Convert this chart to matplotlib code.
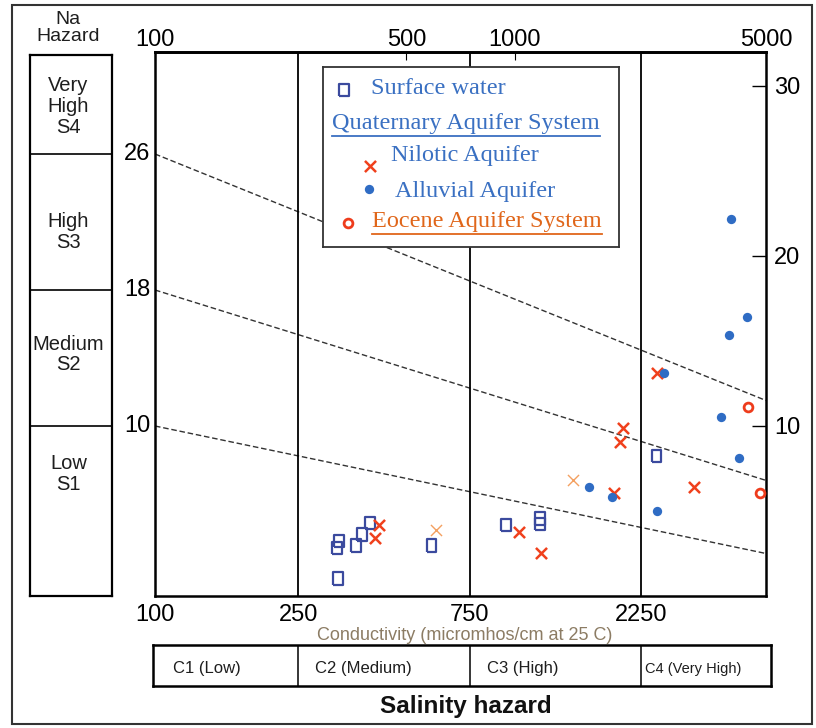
import numpy as np
import matplotlib
matplotlib.use('Agg')
import matplotlib.pyplot as plt
from matplotlib.patches import Rectangle
from matplotlib.ticker import NullLocator
from matplotlib.transforms import blended_transform_factory

W, H = 816, 728

# Sample points: EC (micromhos/cm) and SAR
surface_ec = [325, 321, 323, 362, 376, 396, 588, 946, 1177, 1177, 2484]
surface_sar = [3.24, 2.82, 1.02, 2.98, 3.61, 4.30, 2.98, 4.16, 4.56, 4.22, 8.23]
nilotic_ec = [420, 409, 1029, 1182, 2484, 2005, 1964, 1890, 3160]
nilotic_sar = [4.16, 3.41, 3.77, 2.53, 13.14, 9.86, 9.07, 6.07, 6.39]
nilotic_faint_ec = [604, 1456]
nilotic_faint_sar = [3.87, 6.82]
alluvial_ec = [3990, 4420, 3954, 2603, 3750, 4216, 1610, 1862, 2484]
alluvial_sar = [22.2, 16.44, 15.37, 13.14, 10.55, 8.10, 6.39, 5.80, 4.99]
eocene_ec = [4467, 4813]
eocene_sar = [11.14, 6.07]

# Na hazard boundaries (SAR at EC=100 and EC=5000)
boundary_left = [26, 18, 10]
boundary_right = [11.5, 6.8, 2.5]
class_edges = [250, 750, 2250]
top_ticks = [100, 500, 1000, 5000]
bottom_ticks = [100, 250, 750, 2250]
right_ticks = [10, 20, 30]
na_labels = ['Very\nHigh\nS4', 'High\nS3', 'Medium\nS2', 'Low\nS1']
c_labels = ['C1 (Low)', 'C2 (Medium)', 'C3 (High)', 'C4 (Very High)']

SANS = ['Liberation Sans', 'DejaVu Sans']
SERIF = ['Liberation Serif', 'DejaVu Serif']
BLUE_TXT = '#3a70c2'
SQ_COL = '#3b4a9e'
X_COL = '#f0401c'
DOT_COL = '#2f6cc4'
EO_COL = '#ee3c1c'
EO_TXT = '#e0661a'

RECT = [(-0.75, -1), (0.75, -1), (0.75, 1), (-0.75, 1), (-0.75, -1)]

sq_style = dict(marker=RECT, facecolors='none', edgecolors=SQ_COL, s=80, linewidths=1.6)
x_style = dict(marker='x', color=X_COL, s=64, linewidths=1.8)
xf_style = dict(marker='x', color='#f4a060', s=64, linewidths=1.0)
dot_style = dict(marker='o', color=DOT_COL, s=45, linewidths=0)
eo_style = dict(marker='o', facecolors='white', edgecolors=EO_COL, s=40, linewidths=2)


def fbox(x0, y0, x1, y1):
    """pixel box (top-left origin) -> figure rect"""
    return [x0 / W, 1 - y1 / H, (x1 - x0) / W, (y1 - y0) / H]


def ftext(x, y, s, **kw):
    kw.setdefault('family', SANS)
    kw.setdefault('ha', 'center')
    kw.setdefault('va', 'center')
    return fig.text(x / W, 1 - y / H, s, **kw)


fig = plt.figure(figsize=(W / 100, H / 100), dpi=100)

# outer frame
fig.add_artist(Rectangle((12 / W, 1 - 724 / H), 800 / W, 719 / H, transform=fig.transFigure,
                         fill=False, edgecolor='#333333', lw=1.5))

# ---- main diagram ----
ax = fig.add_axes(fbox(155, 52, 766, 596))
ax.set_xscale('log')
ax.set_xlim(100, 5000)
ax.set_ylim(0, 32)
for sp in ax.spines.values():
    sp.set_linewidth(1.8)

for l, r in zip(boundary_left, boundary_right):
    ax.plot([100, 5000], [l, r], color='#333333', lw=1.0, ls=(0, (4, 2)), zorder=1)
for e in class_edges:
    ax.axvline(e, color='black', lw=1.3, zorder=1)

ax.scatter(surface_ec, surface_sar, zorder=3, **sq_style)
ax.scatter(nilotic_ec, nilotic_sar, zorder=3, **x_style)
ax.scatter(nilotic_faint_ec, nilotic_faint_sar, zorder=3, **xf_style)
ax.scatter(alluvial_ec, alluvial_sar, zorder=3, **dot_style)
ax.scatter(eocene_ec, eocene_sar, zorder=4, **eo_style)

ax.xaxis.set_minor_locator(NullLocator())
ax.set_xticks(bottom_ticks)
ax.set_xticklabels([str(t) for t in bottom_ticks], family=SANS)
ax.tick_params(axis='x', length=0, pad=6, labelsize=17)

ax.yaxis.tick_right()
ax.set_yticks(right_ticks)
ax.set_yticklabels([str(t) for t in right_ticks], family=SANS)
ax.tick_params(axis='y', direction='in', length=10, width=1.0, pad=6, labelsize=17)

sec = ax.secondary_xaxis('top')
sec.xaxis.set_minor_locator(NullLocator())
sec.set_xticks(top_ticks)
sec.set_xticklabels([str(t) for t in top_ticks], family=SANS)
sec.tick_params(direction='in', length=6, pad=1, labelsize=17)
sec.spines['top'].set_linewidth(2.0)

lt = blended_transform_factory(ax.transAxes, ax.transData)
for v in boundary_left:
    ax.text(-0.008, v, str(v), transform=lt, ha='right', va='center',
            fontsize=17, family=SANS)

# ---- Na hazard column ----
axl = fig.add_axes(fbox(30, 55, 112, 596))
axl.set_ylim(0, 32 * (596 - 55) / (596 - 52))
axl.set_xlim(0, 1)
axl.set_xticks([])
axl.set_yticks([])
for sp in axl.spines.values():
    sp.set_linewidth(1.6)
for v in boundary_left:
    axl.axhline(v, color='black', lw=1.2)
for lab, yc in zip(na_labels, [28.8, 21.4, 14.2, 7.2]):
    axl.text(0.47, yc, lab, ha='center', va='center', fontsize=14.5,
             family=SANS, color='#1e1e1e', linespacing=1.12)
ftext(68, 28, 'Na\nHazard', fontsize=14, linespacing=1.05, color='#1e1e1e')

# ---- salinity class boxes ----
axs = fig.add_axes(fbox(153, 645, 771, 686))
axs.set_xscale('log')
axs.set_xlim(100 * 10 ** (-2 / 359.6), 100 * 10 ** (616 / 359.6))
axs.set_ylim(0, 1)
axs.set_xticks([])
axs.set_yticks([])
axs.xaxis.set_minor_locator(NullLocator())
for sp in axs.spines.values():
    sp.set_linewidth(1.8)
for e in class_edges:
    axs.axvline(e, color='black', lw=1.1)
for lab, xp, fs in zip(c_labels, [173, 315, 487, 645], [12, 12, 12, 10.5]):
    ftext(xp, 669, lab, ha='left', fontsize=fs, color='#1e1e1e')

ftext(465, 635, 'Conductivity (micromhos/cm at 25 C)', fontsize=13, color='#8c7c64')
ftext(466, 707, 'Salinity hazard', fontsize=17.5, fontweight='bold', color='#111111')

# ---- legend ----
axg = fig.add_axes(fbox(323, 67, 619, 247), zorder=5)
axg.set_xlim(323, 619)
axg.set_ylim(247, 67)
axg.set_xticks([])
axg.set_yticks([])
for sp in axg.spines.values():
    sp.set_linewidth(1.3)
    sp.set_edgecolor('#333333')

axg.scatter([344], [90], **sq_style)
axg.scatter([370], [166], **x_style)
axg.scatter([369], [189], **dot_style)
axg.scatter([348], [223], **eo_style)

fs_leg = 17.5
axg.text(371, 88, 'Surface water', ha='left', va='center', fontsize=fs_leg,
         family=SERIF, color=BLUE_TXT)
t_q = axg.text(332, 124, 'Quaternary Aquifer System', ha='left', va='center',
               fontsize=fs_leg, family=SERIF, color=BLUE_TXT)
axg.text(391, 155, 'Nilotic Aquifer', ha='left', va='center', fontsize=fs_leg,
         family=SERIF, color=BLUE_TXT)
axg.text(395, 192, 'Alluvial Aquifer', ha='left', va='center', fontsize=fs_leg,
         family=SERIF, color=BLUE_TXT)
t_e = axg.text(372, 222, 'Eocene Aquifer System', ha='left', va='center',
               fontsize=fs_leg, family=SERIF, color=EO_TXT)

# underline the two group headers
renderer = fig.canvas.get_renderer()
inv = axg.transData.inverted()
for t, yline, col in [(t_q, 136, BLUE_TXT), (t_e, 234, EO_TXT)]:
    bb = t.get_window_extent(renderer)
    (x0, _), (x1, _) = inv.transform([[bb.x0, bb.y0], [bb.x1, bb.y0]])
    axg.plot([x0, x1], [yline, yline], color=col, lw=1.3)

fig.savefig('out.png', dpi=100)
